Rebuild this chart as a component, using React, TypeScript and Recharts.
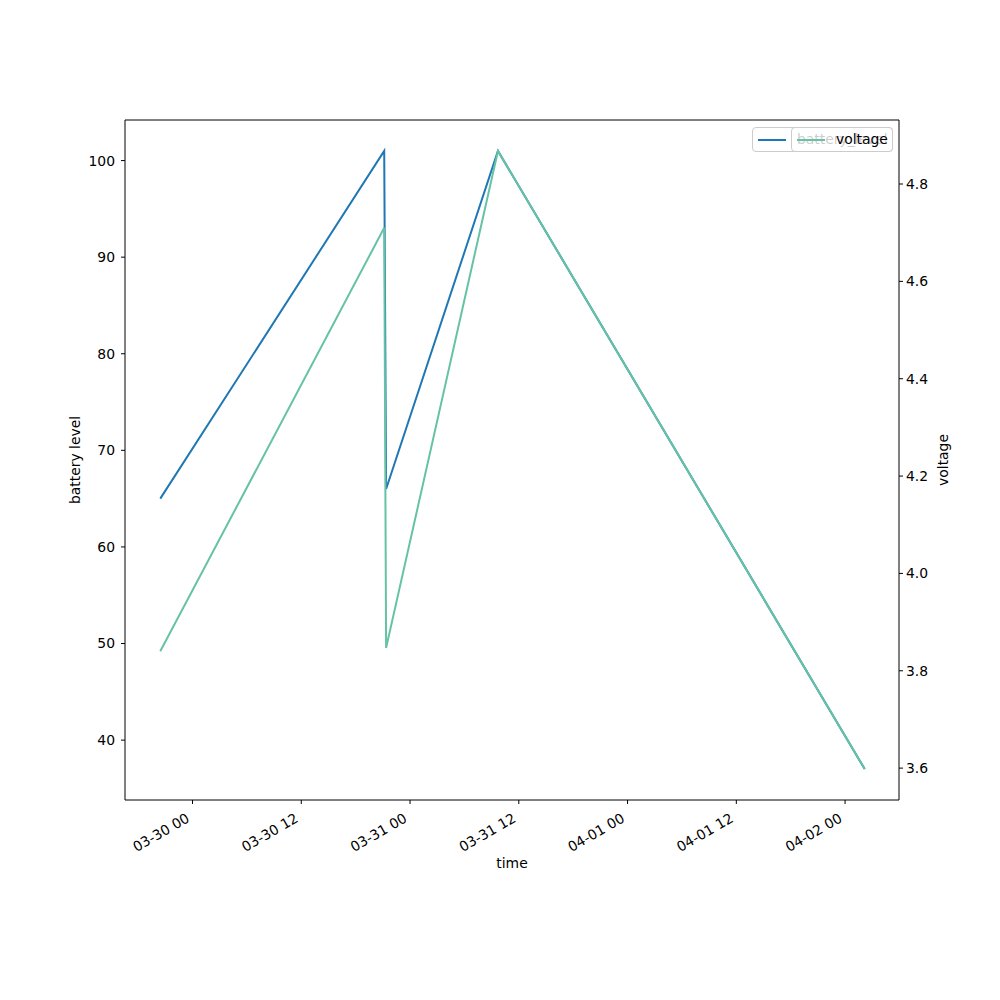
import { Legend, Line, LineChart, ReferenceLine, XAxis, YAxis } from 'recharts'

// hours since 03-30 00:00
const hours = [-3.56, 21.15, 21.36, 33.7, 74.17]
const batteryLevel = [65, 101, 66, 101, 37]
const voltage = [3.84, 4.71, 3.847, 4.868, 3.598]

const timeTicks = [0, 12, 24, 36, 48, 60, 72]
const timeTickLabels = ['03-30 00', '03-30 12', '03-31 00', '03-31 12', '04-01 00', '04-01 12', '04-02 00']
const batteryTicks = [40, 50, 60, 70, 80, 90, 100]
const voltageTicks = [3.6, 3.8, 4.0, 4.2, 4.4, 4.6, 4.8]

const data = hours.map((t, i) => ({ t, battery_level: batteryLevel[i], voltage: voltage[i] }))

const FONT = '"DejaVu Sans", sans-serif'
const FS = 13.9
const BLUE = '#1f77b4'
const GREEN = '#66c2a5'

function TimeTick({ x, y, payload }: any) {
  const idx = timeTicks.indexOf(payload.value)
  return (
    <g transform={`translate(${x - 2},${y + 17})`}>
      <text textAnchor="end" transform="rotate(-30)" fontSize={FS} fontFamily={FONT} fill="#000">
        {timeTickLabels[idx]}
      </text>
    </g>
  )
}

function LegendBoxes() {
  const box = (left: number, width: number, color: string, label: string) => (
    <div
      style={{
        position: 'absolute',
        left,
        top: 127,
        width,
        height: 25,
        boxSizing: 'border-box',
        border: '1px solid #cccccc',
        borderRadius: 4,
        background: 'rgba(255,255,255,0.8)',
      }}
    >
      <div style={{ position: 'absolute', left: 5, top: 11, width: 28, height: 2, background: color }} />
      <div
        style={{
          position: 'absolute',
          left: 44,
          top: 3,
          fontSize: FS,
          fontFamily: FONT,
          lineHeight: '16px',
          whiteSpace: 'nowrap',
          color: '#000',
        }}
      >
        {label}
      </div>
    </div>
  )
  return (
    <div style={{ position: 'relative', width: 0, height: 0 }}>
      {box(752, 141, BLUE, 'battery_level')}
      {box(791, 102, GREEN, 'voltage')}
    </div>
  )
}

export default function App() {
  return (
    <div style={{ position: 'absolute', left: 0, top: 0, width: 1000, height: 1000, background: '#fff', fontFamily: FONT }}>
      <LineChart width={1000} height={1000} data={data} margin={{ top: 120, right: 41, bottom: 140, left: 65 }}>
        <XAxis
          dataKey="t"
          type="number"
          domain={[-7.45, 77.95]}
          ticks={timeTicks}
          tick={<TimeTick />}
          tickSize={4}
          tickMargin={0}
          height={60}
          stroke="#000"
          allowDataOverflow
          label={{ value: 'time', position: 'insideBottom', offset: 0, dy: 8, fontSize: FS, fontFamily: FONT, fill: '#000' }}
        />
        <YAxis
          yAxisId="left"
          domain={[33.8, 104.2]}
          ticks={batteryTicks}
          tickSize={4}
          tickMargin={6}
          width={60}
          stroke="#000"
          tick={{ fontSize: FS, fontFamily: FONT, fill: '#000' }}
          allowDataOverflow
          label={{ value: 'battery level', angle: -90, position: 'insideLeft', offset: 10, fontSize: FS, fontFamily: FONT, fill: '#000', style: { textAnchor: 'middle' } }}
        />
        <YAxis
          yAxisId="right"
          orientation="right"
          domain={[3.5345, 4.9315]}
          ticks={voltageTicks}
          tickFormatter={(v: number) => v.toFixed(1)}
          tickSize={4}
          tickMargin={3}
          width={60}
          stroke="#000"
          tick={{ fontSize: FS, fontFamily: FONT, fill: '#000' }}
          allowDataOverflow
          label={{ value: 'voltage', angle: -90, position: 'insideRight', offset: 16, fontSize: FS, fontFamily: FONT, fill: '#000', style: { textAnchor: 'middle' } }}
        />
        <ReferenceLine yAxisId="left" y={104.2} stroke="#000" strokeWidth={1} />
        <Line
          yAxisId="left"
          dataKey="battery_level"
          stroke={BLUE}
          strokeWidth={2}
          dot={false}
          isAnimationActive={false}
          type="linear"
        />
        <Line
          yAxisId="right"
          dataKey="voltage"
          stroke={GREEN}
          strokeWidth={2}
          dot={false}
          isAnimationActive={false}
          type="linear"
        />
        <Legend
          content={<LegendBoxes />}
          wrapperStyle={{ position: 'absolute', left: 0, top: 0, width: 0, height: 0 }}
        />
      </LineChart>
    </div>
  )
}
